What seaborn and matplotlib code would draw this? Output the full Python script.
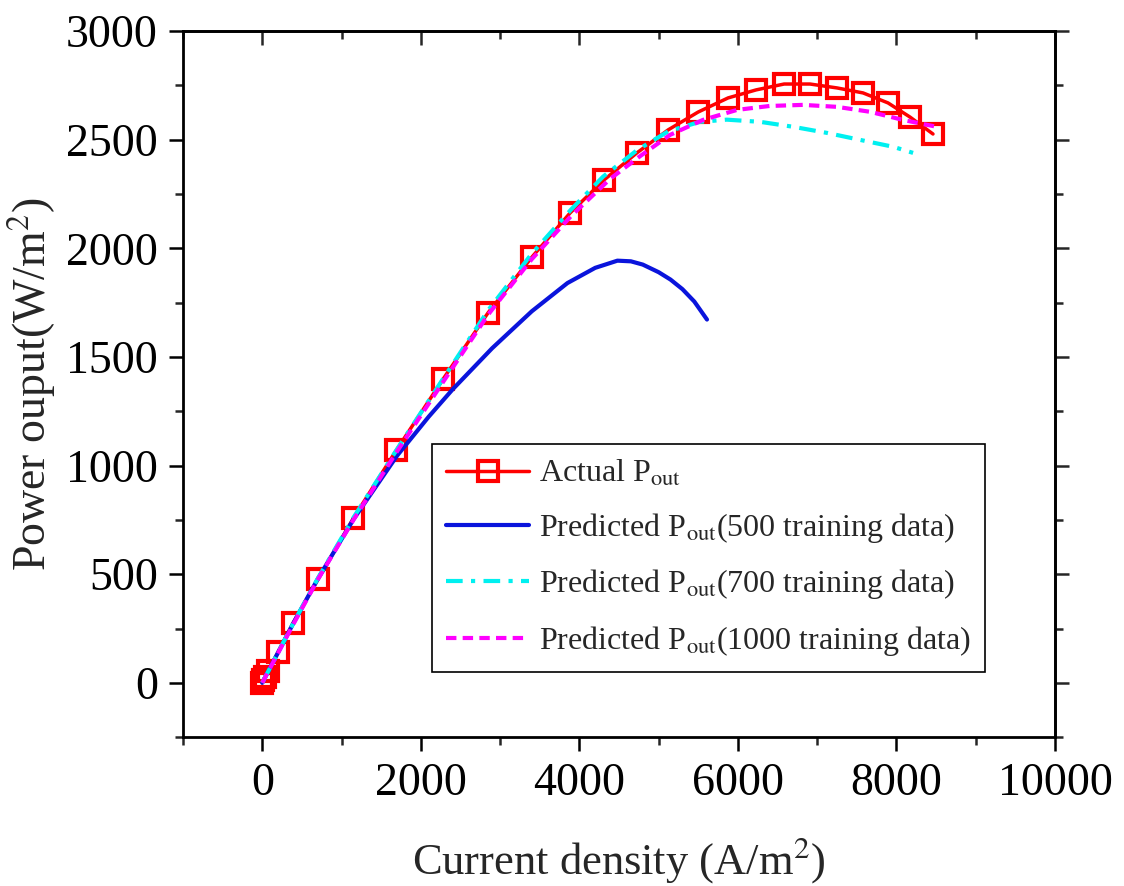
import numpy as np
import pandas as pd
import matplotlib
matplotlib.use("Agg")
import matplotlib.pyplot as plt
from matplotlib.ticker import MultipleLocator
import seaborn as sns

# ---- data ----
actual_x = [0, 15, 35, 75, 200, 390, 706, 1150, 1690, 2285, 2850, 3405, 3884, 4313,
            4729, 5120, 5498, 5876, 6230, 6583, 6910, 7251, 7579, 7894, 8171, 8461]
actual_y = [0, 12, 28, 55, 142, 276, 478, 758, 1070, 1400, 1704, 1961, 2163, 2315,
            2440, 2545, 2627, 2692, 2729, 2756, 2756, 2738, 2715, 2669, 2604, 2526]

p500_x = [0, 400, 700, 1150, 1700, 2100, 2400, 2900, 3400, 3850, 4200, 4480, 4650,
          4800, 5000, 5150, 5300, 5450, 5610]
p500_y = [0, 280, 478, 752, 1045, 1225, 1350, 1540, 1710, 1840, 1910, 1943, 1940,
          1925, 1890, 1856, 1812, 1755, 1672]

p700_x = [0, 400, 700, 1150, 1700, 2300, 2850, 3400, 3900, 4300, 4730, 5120, 5520, 5860,
          6280, 6700, 7125, 7540, 7960, 8210]
p700_y = [0, 280, 480, 760, 1075, 1410, 1715, 1975, 2180, 2330, 2452, 2538, 2582, 2592,
          2582, 2559, 2531, 2499, 2467, 2439]

p1000_x = [0, 400, 700, 1150, 1700, 2300, 2850, 3400, 3900, 4390, 4770, 5145, 5560, 5990,
           6400, 6820, 7250, 7670, 8080, 8510]
p1000_y = [0, 275, 475, 750, 1065, 1395, 1695, 1950, 2150, 2320, 2425, 2522, 2591, 2637,
           2655, 2660, 2651, 2628, 2591, 2559]

labels = [r"Actual P$_{\rm out}$",
          r"Predicted P$_{\rm out}$(500 training data)",
          r"Predicted P$_{\rm out}$(700 training data)",
          r"Predicted P$_{\rm out}$(1000 training data)"]

sns.set_style("ticks")
plt.rcParams["font.family"] = ["Liberation Serif", "DejaVu Serif"]
plt.rcParams["mathtext.fontset"] = "stix"

fig = plt.figure(figsize=(11.24, 8.86), dpi=100)
ax = fig.add_axes([0.1628, 0.168, 0.7758, 0.797])

df_a = pd.DataFrame({"x": actual_x, "y": actual_y})
df5 = pd.DataFrame({"x": p500_x, "y": p500_y})
df7 = pd.DataFrame({"x": p700_x, "y": p700_y})
df10 = pd.DataFrame({"x": p1000_x, "y": p1000_y})

sns.lineplot(data=df_a, x="x", y="y", ax=ax, color="#FF0000", lw=2.5, marker="s",
             markersize=14, markerfacecolor="none", markeredgecolor="#FF0000",
             markeredgewidth=3, estimator=None, sort=False, label=labels[0])
sns.lineplot(data=df5, x="x", y="y", ax=ax, color="#0A14DC", lw=3, estimator=None,
             sort=False, label=labels[1])
sns.lineplot(data=df7, x="x", y="y", ax=ax, color="#00F0F0", lw=3, estimator=None,
             sort=False, label=labels[2], linestyle=(0, (4, 2, 1, 2)))
sns.lineplot(data=df10, x="x", y="y", ax=ax, color="#FF00FF", lw=3, estimator=None,
             sort=False, label=labels[3], linestyle=(0, (2.5, 1.5)))

ax.set_xlim(-1000, 10000)
ax.set_ylim(-250, 3000)
ax.xaxis.set_major_locator(MultipleLocator(2000))
ax.xaxis.set_minor_locator(MultipleLocator(1000))
ax.yaxis.set_major_locator(MultipleLocator(500))
ax.yaxis.set_minor_locator(MultipleLocator(250))

for s in ax.spines.values():
    s.set_linewidth(2)
    s.set_color("black")

ax.tick_params(which="major", direction="out", length=10, width=1.8, labelsize=33,
               colors="black", pad=8)
ax.tick_params(which="minor", direction="out", length=5.5, width=1.8)

# top ticks pointing in, right ticks pointing out, no labels
top = ax.secondary_xaxis("top")
top.xaxis.set_major_locator(MultipleLocator(2000))
top.xaxis.set_minor_locator(MultipleLocator(1000))
top.tick_params(which="major", direction="in", length=10, width=1.8, labeltop=False)
top.tick_params(which="minor", direction="in", length=5.5, width=1.8)
top.spines["top"].set_linewidth(2)
right = ax.secondary_yaxis("right")
right.yaxis.set_major_locator(MultipleLocator(500))
right.yaxis.set_minor_locator(MultipleLocator(250))
right.tick_params(which="major", direction="out", length=10, width=1.8, labelright=False)
right.tick_params(which="minor", direction="out", length=5.5, width=1.8)
right.spines["right"].set_linewidth(2)

ax.set_xlabel(r"Current density (A/m$^2$)", fontsize=32, labelpad=22)
ax.set_ylabel(r"Power ouput(W/m$^2$)", fontsize=33, labelpad=6)

leg = ax.legend(loc="lower left", bbox_to_anchor=(0.2856, 0.092), fontsize=23,
                frameon=True, fancybox=False, framealpha=1, edgecolor="black",
                handlelength=2.6, handletextpad=0.3, labelspacing=0.7,
                borderpad=0.45, borderaxespad=0)
leg.get_frame().set_linewidth(1.2)

fig.savefig("out.png", dpi=100)
